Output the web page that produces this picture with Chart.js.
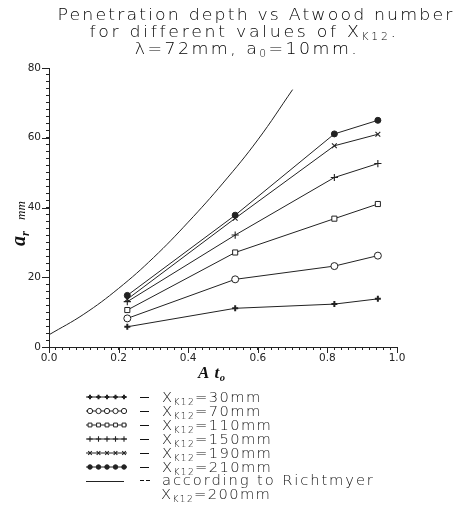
<!DOCTYPE html>
<html>
<head>
<meta charset="utf-8">
<script src="https://cdn.jsdelivr.net/npm/chart.js@4.4.1/dist/chart.umd.min.js"></script>
<style>
  body { margin: 0; background: #fff; }
  #wrap { width: 472px; height: 506px; position: relative; }
</style>
</head>
<body>
<div id="wrap"><canvas id="depthChart"></canvas></div>
<script>
// Atwood number (x) for the measured points
const atwood = [0.225, 0.535, 0.82, 0.945];

// penetration depth a_r, mm, one list per X_K12
const depth30 = [5.8, 11.1, 12.3, 13.8];
const depth70 = [8.2, 19.4, 23.2, 26.2];
const depth110 = [10.6, 27.1, 36.8, 41.0];
const depth150 = [13.0, 32.1, 48.6, 52.6];
const depth190 = [13.7, 36.9, 57.7, 61.0];
const depth210 = [14.8, 37.8, 61.1, 65.0];

// Richtmyer curve, X_K12 = 200mm
const richX = [0, 0.1, 0.2, 0.3, 0.4, 0.5, 0.6, 0.7];
const richY = [3.5, 9.4, 16.8, 25.6, 35.8, 47.0, 59.4, 73.8];

const xTickLabels = ["0.0", "0.2", "0.4", "0.6", "0.8", "1.0"];
const yTickLabels = ["0", "20", "40", "60", "80"];

const legendNames = ["30mm", "70mm", "110mm", "150mm", "190mm", "210mm"];

const ink = "#222";
const pts = (xs, ys) => xs.map((x, i) => ({ x: x, y: ys[i] }));

const markers = [
  { pointStyle: "cross", radius: 3, borderWidth: 2 },
  { pointStyle: "circle", radius: 3.5, borderWidth: 1 },
  { pointStyle: "rect", radius: 3.6, borderWidth: 1 },
  { pointStyle: "cross", radius: 3.6, borderWidth: 1.1 },
  { pointStyle: "crossRot", radius: 3.4, borderWidth: 1.1 },
  { pointStyle: "circle", radius: 3, borderWidth: 1 },
];
const filled = [true, false, false, true, true, true];

const series = [depth30, depth70, depth110, depth150, depth190, depth210];

const datasets = series.map((d, k) => ({
  label: "X_K12=" + legendNames[k],
  data: pts(atwood, d),
  borderColor: ink,
  borderWidth: 1,
  pointStyle: markers[k].pointStyle,
  pointRadius: markers[k].radius,
  pointBorderWidth: markers[k].borderWidth,
  pointBorderColor: ink,
  pointBackgroundColor: filled[k] ? ink : "#fff",
  tension: 0,
}));
datasets.push({
  label: "Richtmyer",
  data: pts(richX, richY),
  borderColor: ink,
  borderWidth: 1,
  pointRadius: 0,
  tension: 0.4,
});

// draws text with subscripts: parts = [[text, isSub], ...], stretched by sx
function richText(ctx, parts, x, y, size, align, style, family, spacing, sx) {
  sx = sx || 1;
  ctx.letterSpacing = (spacing || 0) + "px";
  const fontFor = (sub) => style + " " + (sub ? size * 0.62 : size) + "px " + family;
  let w = 0;
  const widths = parts.map((p) => {
    ctx.font = fontFor(p[1]);
    const m = ctx.measureText(p[0]).width;
    w += m;
    return m;
  });
  ctx.save();
  ctx.translate(align === "center" ? x - (w * sx) / 2 : x, y);
  ctx.scale(sx, 1);
  ctx.textAlign = "left";
  ctx.textBaseline = "alphabetic";
  let cx = 0;
  parts.forEach((p, i) => {
    ctx.font = fontFor(p[1]);
    ctx.fillText(p[0], cx, p[1] ? size * 0.18 : 0);
    cx += widths[i];
  });
  ctx.restore();
  ctx.letterSpacing = "0px";
}

const thin = '"DejaVu Sans"';

const decorPlugin = {
  id: "decor",
  afterDraw(chart) {
    const ctx = chart.ctx;
    const xs = chart.scales.x, ys = chart.scales.y;
    ctx.save();
    ctx.strokeStyle = ink;

    // longer major ticks
    ctx.lineWidth = 1;
    ctx.beginPath();
    [0, 20, 40, 60, 80].forEach((v) => {
      const py = Math.round(ys.getPixelForValue(v)) + 0.5;
      ctx.moveTo(xs.left - 7, py);
      ctx.lineTo(xs.left, py);
    });
    [0, 0.2, 0.4, 0.6, 0.8, 1].forEach((v) => {
      const px = Math.round(xs.getPixelForValue(v)) + 0.5;
      ctx.moveTo(px, ys.bottom);
      ctx.lineTo(px, ys.bottom + 6);
    });
    ctx.stroke();

    // title
    ctx.fillStyle = "#000";
    richText(ctx, [["Penetration depth vs Atwood number", false]], 256, 20, 15.5, "center", "200", thin, 1.9, 1.12);
    richText(ctx, [["for different values of X", false], ["K12", true], [".", false]], 244, 37, 15.5, "center", "200", thin, 2.4, 1.12);
    richText(ctx, [["λ=72mm, a", false], ["0", true], ["=10mm.", false]], 247, 54, 15.5, "center", "200", thin, 2.2, 1.12);

    // axis titles
    ctx.fillStyle = "#111";
    richText(ctx, [["A t", false], ["o", true]], 198, 378, 17, "left", "bold italic", '"Liberation Serif"', 0.5);
    ctx.save();
    ctx.translate(25, 246);
    ctx.rotate(-Math.PI / 2);
    richText(ctx, [["a", false], ["r", true]], 0, 0, 20, "left", "bold italic", '"Liberation Serif"', 0);
    ctx.font = 'italic 13px "Liberation Serif"';
    ctx.fillText("mm", 26, 0);
    ctx.restore();

    // legend
    const rowY = [397, 411, 425, 439, 453, 467];
    rowY.forEach((ry, k) => {
      ctx.strokeStyle = ink;
      ctx.lineWidth = 1;
      ctx.beginPath();
      ctx.moveTo(86, ry);
      ctx.lineTo(127, ry);
      ctx.stroke();
      for (let j = 0; j < 5; j++) {
        ctx.fillStyle = filled[k] ? ink : "#fff";
        ctx.lineWidth = markers[k].borderWidth;
        Chart.helpers.drawPoint(ctx, {
          pointStyle: markers[k].pointStyle,
          radius: markers[k].radius * 0.75,
          rotation: 0,
          borderWidth: markers[k].borderWidth,
        }, 90 + j * 8.5, ry);
      }
      ctx.fillStyle = "#111";
      ctx.fillRect(140, ry, 9, 1);
      richText(ctx, [["X", false], ["K12", true], ["=" + legendNames[k], false]], 162, ry + 5, 14, "left", "200", thin, 1.3, 1.05);
    });
    ctx.strokeStyle = ink;
    ctx.lineWidth = 1;
    ctx.beginPath();
    ctx.moveTo(86, 481.5);
    ctx.lineTo(124, 481.5);
    ctx.stroke();
    ctx.fillStyle = "#111";
    ctx.fillRect(140, 480, 4, 1);
    ctx.fillRect(146, 480, 4, 1);
    richText(ctx, [["according to Richtmyer", false]], 162, 485, 14, "left", "200", thin, 1.8, 1.05);
    richText(ctx, [["X", false], ["K12", true], ["=200mm", false]], 161, 499, 14, "left", "200", thin, 1.3, 1.05);
    ctx.restore();
  },
};

const isMajor = (v, step) => Math.abs(v / step - Math.round(v / step)) < 1e-6;

new Chart(document.getElementById("depthChart"), {
  type: "line",
  data: { datasets: datasets },
  options: {
    responsive: true,
    maintainAspectRatio: false,
    animation: false,
    layout: { padding: { left: 0, right: 75, top: 68, bottom: 139 } },
    plugins: { legend: { display: false }, title: { display: false }, tooltip: { enabled: false } },
    scales: {
      x: {
        type: "linear",
        min: 0,
        max: 1,
        afterFit(s) { s.height = 20; },
        afterBuildTicks(s) {
          s.ticks = [];
          for (let i = 0; i <= 50; i++) s.ticks.push({ value: i * 0.02 });
        },
        ticks: {
          autoSkip: false,
          maxRotation: 0,
          padding: 2,
          color: "#222",
          font: { family: "DejaVu Sans", size: 10.5 },
          callback: (v) => (isMajor(v, 0.2) ? xTickLabels[Math.round(v / 0.2)] : ""),
        },
        grid: { drawOnChartArea: false, tickLength: 3, color: ink },
        border: { color: ink, width: 1 },
      },
      y: {
        type: "linear",
        min: 0,
        max: 80,
        afterFit(s) { s.width = 49; },
        afterBuildTicks(s) {
          s.ticks = [];
          for (let i = 0; i <= 40; i++) s.ticks.push({ value: i * 2 });
        },
        ticks: {
          autoSkip: false,
          padding: 5,
          color: "#222",
          font: { family: "DejaVu Sans", size: 10.5 },
          callback: (v) => (isMajor(v, 20) ? yTickLabels[Math.round(v / 20)] : ""),
        },
        grid: { drawOnChartArea: false, tickLength: 3, color: ink },
        border: { color: ink, width: 1 },
      },
    },
  },
  plugins: [decorPlugin],
});
</script>
</body>
</html>
